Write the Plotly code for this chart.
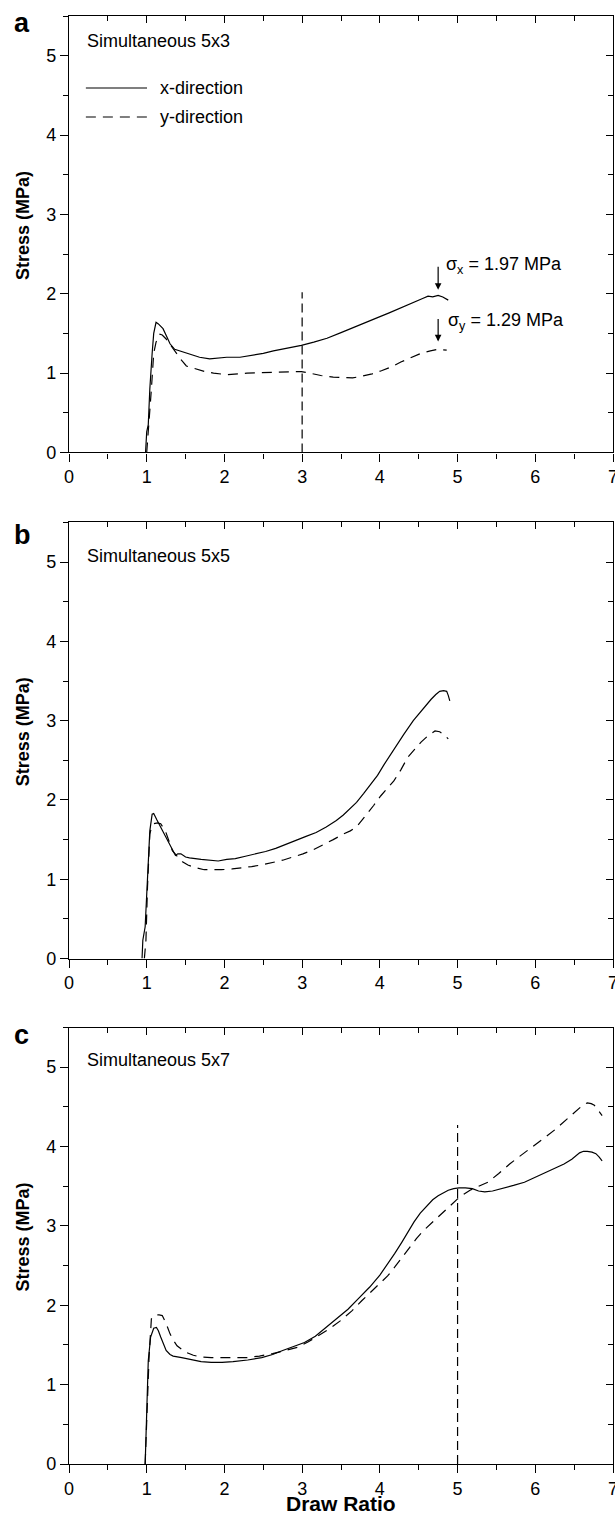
import plotly.graph_objects as go

# ---------------- data ----------------
a_x_dr = [0.985, 0.99, 1.0, 1.02, 1.04, 1.07, 1.09, 1.12, 1.15, 1.21, 1.26, 1.30, 1.36, 1.45, 1.51, 1.60,
          1.68, 1.81, 1.95, 2.03, 2.20, 2.33, 2.50, 2.63, 2.80, 2.99, 3.15, 3.32, 3.50, 3.63, 3.80, 3.97,
          4.12, 4.27, 4.45, 4.55, 4.62, 4.68, 4.75, 4.81, 4.88]
a_x_st = [0.0, 0.12, 0.26, 0.35, 0.80, 1.25, 1.50, 1.64, 1.62, 1.56, 1.45, 1.37, 1.30, 1.27, 1.25, 1.22,
          1.20, 1.18, 1.19, 1.20, 1.20, 1.22, 1.25, 1.28, 1.31, 1.35, 1.39, 1.44, 1.51, 1.56, 1.63, 1.70,
          1.76, 1.82, 1.89, 1.94, 1.97, 1.96, 1.98, 1.96, 1.92]
a_y_dr = [1.0, 1.03, 1.06, 1.09, 1.12, 1.17, 1.20, 1.25, 1.30, 1.36, 1.41, 1.45, 1.51, 1.64, 1.75, 1.86,
          2.03, 2.29, 2.63, 2.99, 3.10, 3.24, 3.40, 3.54, 3.65, 3.76, 3.90, 4.02, 4.15, 4.27, 4.40, 4.53,
          4.65, 4.75, 4.86]
a_y_st = [0.0, 0.35, 0.80, 1.25, 1.39, 1.49, 1.48, 1.43, 1.36, 1.29, 1.22, 1.16, 1.09, 1.05, 1.02, 1.00,
          0.98, 1.00, 1.01, 1.02, 1.00, 0.97, 0.95, 0.94, 0.94, 0.96, 0.99, 1.03, 1.08, 1.14, 1.20, 1.25,
          1.28, 1.30, 1.29]

b_x_dr = [0.94, 0.95, 0.98, 1.01, 1.04, 1.07, 1.09, 1.13, 1.18, 1.26, 1.32, 1.37, 1.40, 1.44, 1.50, 1.55,
          1.70, 1.80, 1.92, 2.03, 2.14, 2.27, 2.40, 2.53, 2.66, 2.80, 2.92, 3.05, 3.18, 3.31, 3.44, 3.53,
          3.62, 3.70, 3.79, 3.88, 3.97, 4.05, 4.14, 4.22, 4.31, 4.43, 4.52, 4.60, 4.66, 4.72, 4.77, 4.82,
          4.86, 4.88, 4.90]
b_x_st = [0.0, 0.23, 0.40, 0.99, 1.61, 1.82, 1.83, 1.75, 1.66, 1.51, 1.40, 1.30, 1.32, 1.32, 1.28, 1.27,
          1.25, 1.24, 1.23, 1.25, 1.26, 1.29, 1.32, 1.35, 1.39, 1.44, 1.49, 1.54, 1.59, 1.66, 1.74, 1.81,
          1.89, 1.97, 2.08, 2.19, 2.31, 2.44, 2.58, 2.70, 2.83, 3.00, 3.11, 3.20, 3.27, 3.33, 3.37, 3.38,
          3.37, 3.32, 3.25]
b_y_dr = [0.97, 0.99, 1.01, 1.04, 1.06, 1.09, 1.14, 1.18, 1.24, 1.28, 1.33, 1.40, 1.46, 1.53, 1.61, 1.74,
          1.85, 1.96, 2.10, 2.22, 2.35, 2.48, 2.62, 2.75, 2.88, 3.01, 3.14, 3.27, 3.40, 3.53, 3.62, 3.70,
          3.76, 3.83, 3.92, 4.01, 4.10, 4.18, 4.27, 4.36, 4.45, 4.53, 4.62, 4.71, 4.77, 4.83, 4.88]
b_y_st = [0.0, 0.23, 0.90, 1.57, 1.65, 1.70, 1.71, 1.70, 1.61, 1.50, 1.36, 1.28, 1.22, 1.18, 1.15, 1.12,
          1.12, 1.12, 1.13, 1.14, 1.16, 1.18, 1.21, 1.24, 1.28, 1.32, 1.37, 1.43, 1.50, 1.57, 1.61, 1.66,
          1.73, 1.82, 1.93, 2.05, 2.15, 2.24, 2.38, 2.54, 2.64, 2.73, 2.81, 2.87, 2.86, 2.82, 2.77]

c_x_dr = [0.98, 1.0, 1.02, 1.05, 1.09, 1.125, 1.15, 1.18, 1.22, 1.25, 1.30, 1.34, 1.45, 1.55, 1.70, 1.83,
          1.97, 2.11, 2.30, 2.48, 2.62, 2.75, 2.90, 3.03, 3.17, 3.31, 3.45, 3.59, 3.73, 3.87, 4.00, 4.10,
          4.19, 4.28, 4.36, 4.44, 4.52, 4.61, 4.68, 4.75, 4.82, 4.88, 4.95, 5.02, 5.10, 5.19, 5.27, 5.35,
          5.45, 5.58, 5.72, 5.86, 5.97, 6.09, 6.23, 6.37, 6.47, 6.57, 6.62, 6.67, 6.73, 6.78, 6.82, 6.86]
c_x_st = [0.0, 0.65, 1.30, 1.60, 1.71, 1.72, 1.68, 1.60, 1.50, 1.43, 1.38, 1.36, 1.34, 1.32, 1.29, 1.28,
          1.28, 1.29, 1.31, 1.34, 1.38, 1.43, 1.48, 1.53, 1.61, 1.72, 1.83, 1.95, 2.09, 2.23, 2.38, 2.52,
          2.65, 2.79, 2.92, 3.05, 3.16, 3.26, 3.33, 3.38, 3.42, 3.45, 3.47, 3.48, 3.48, 3.47, 3.44, 3.43,
          3.44, 3.47, 3.51, 3.55, 3.60, 3.66, 3.72, 3.78, 3.84, 3.92, 3.94, 3.94, 3.93, 3.91, 3.87, 3.82]
c_y_dr = [0.98, 1.0, 1.03, 1.06, 1.11, 1.16, 1.20, 1.25, 1.30, 1.35, 1.39, 1.50, 1.60, 1.69, 1.83, 1.97,
          2.13, 2.29, 2.45, 2.62, 2.78, 2.94, 3.08, 3.22, 3.36, 3.50, 3.64, 3.77, 3.89, 4.00, 4.10, 4.19,
          4.29, 4.38, 4.47, 4.56, 4.66, 4.75, 4.84, 4.93, 5.00, 5.08, 5.16, 5.27, 5.39, 5.53, 5.67, 5.79,
          5.90, 6.02, 6.13, 6.25, 6.37, 6.46, 6.55, 6.61, 6.67, 6.72, 6.76, 6.81, 6.86]
c_y_st = [0.0, 0.60, 1.34, 1.83, 1.88, 1.88, 1.87, 1.77, 1.64, 1.55, 1.49, 1.41, 1.37, 1.35, 1.34, 1.34,
          1.34, 1.34, 1.36, 1.39, 1.43, 1.47, 1.54, 1.62, 1.71, 1.81, 1.93, 2.06, 2.17, 2.27, 2.37, 2.48,
          2.61, 2.73, 2.84, 2.94, 3.03, 3.11, 3.20, 3.28, 3.34, 3.40, 3.45, 3.50, 3.55, 3.66, 3.78, 3.87,
          3.95, 4.03, 4.12, 4.21, 4.31, 4.39, 4.47, 4.52, 4.55, 4.54, 4.52, 4.46, 4.39]

panel_letters = ["a", "b", "c"]
panel_titles = ["Simultaneous 5x3", "Simultaneous 5x5", "Simultaneous 5x7"]
series_names = ["x-direction", "y-direction"]
x_title = "Draw Ratio"
y_title = "Stress (MPa)"

# vertical reference lines (panel index, draw ratio, top stress)
ref_panel = [1, 3]
ref_x = [3.0, 5.0]
ref_top = [2.02, 4.27]

# sigma annotations in panel a
sig_text = ["σ<sub>x</sub> = 1.97 MPa", "σ<sub>y</sub> = 1.29 MPa"]
sig_arrow_x = [4.75, 4.75]
sig_arrow_top = [2.36, 1.70]
sig_arrow_tip = [2.05, 1.40]
sig_text_x = [4.83, 4.85]
sig_text_y = [2.36, 1.65]

x_range = [0, 7]
y_range = [0, 5.5]

# ---------------- figure ----------------
FONT = "Liberation Sans, Arial, Helvetica, sans-serif"
DASH = "10px,7px"
REFDASH = "9px,5px"
LW = 1.2
AXW = 1.3

domains = [[0.69855, 1.0], [0.34910, 0.65021], [0.0, 0.30145]]
curves = [(a_x_dr, a_x_st, a_y_dr, a_y_st),
          (b_x_dr, b_x_st, b_y_dr, b_y_st),
          (c_x_dr, c_x_st, c_y_dr, c_y_st)]


def ax_name(kind, n):
    return kind if n == 1 else f"{kind}{n}"


fig = go.Figure()

for i, (xd, xs, yd, ys) in enumerate(curves, start=1):
    fig.add_trace(go.Scatter(x=xd, y=xs, mode="lines", name=series_names[0],
                             line=dict(color="black", width=LW),
                             xaxis=ax_name("x", i), yaxis=ax_name("y", i), showlegend=False))
    fig.add_trace(go.Scatter(x=yd, y=ys, mode="lines", name=series_names[1],
                             line=dict(color="black", width=LW, dash=DASH),
                             xaxis=ax_name("x", i), yaxis=ax_name("y", i), showlegend=False))

for p, rx, rt in zip(ref_panel, ref_x, ref_top):
    fig.add_trace(go.Scatter(x=[rx, rx], y=[y_range[0], rt], mode="lines",
                             line=dict(color="black", width=LW, dash=REFDASH),
                             xaxis=ax_name("x", p), yaxis=ax_name("y", p),
                             showlegend=False, hoverinfo="skip"))

# hidden traces so the mirrored tick axes (top / right) get drawn
for i in range(1, 4):
    fig.add_trace(go.Scatter(x=[None], y=[None], xaxis=f"x{i + 3}", yaxis=ax_name("y", i),
                             showlegend=False, hoverinfo="skip"))
    fig.add_trace(go.Scatter(x=[None], y=[None], xaxis=ax_name("x", i), yaxis=f"y{i + 3}",
                             showlegend=False, hoverinfo="skip"))

tickfont = dict(family=FONT, size=18, color="black")
layout = dict(width=615, height=1525, margin=dict(l=69, r=2, t=16, b=61, autoexpand=False),
              paper_bgcolor="white", plot_bgcolor="white", showlegend=False)

for i in range(1, 4):
    sfx = "" if i == 1 else str(i)
    layout[f"xaxis{sfx}"] = dict(
        domain=[0, 1], range=x_range, anchor=f"y{sfx}", dtick=1, tick0=0,
        ticks="outside", ticklen=8, tickwidth=1.2, tickcolor="black",
        minor=dict(dtick=0.5, ticklen=5, ticks="outside", tickwidth=1.2, tickcolor="black"),
        showline=True, mirror=True, linewidth=AXW, linecolor="black", showgrid=False, zeroline=False,
        tickfont=tickfont, ticklabeloverflow="allow", automargin=False, fixedrange=True)
    layout[f"yaxis{sfx}"] = dict(
        domain=domains[i - 1], range=y_range, anchor=f"x{sfx}", dtick=1, tick0=0,
        ticks="outside", ticklen=8, tickwidth=1.2, tickcolor="black",
        minor=dict(dtick=0.5, ticklen=5, ticks="outside", tickwidth=1.2, tickcolor="black"),
        showline=True, mirror=True, linewidth=AXW, linecolor="black", showgrid=False, zeroline=False,
        tickfont=tickfont, ticklabeloverflow="allow", automargin=False, fixedrange=True)
    # inward ticks on top and right
    layout[f"xaxis{i + 3}"] = dict(
        overlaying=f"x{sfx}", side="top", anchor=f"y{sfx}", range=x_range,
        dtick=1, tick0=0, ticks="inside", ticklen=7, tickwidth=1.2, tickcolor="black",
        minor=dict(dtick=0.5, ticklen=5, ticks="inside", tickwidth=1.2, tickcolor="black"),
        showticklabels=False, showline=False, showgrid=False, zeroline=False,
        automargin=False, fixedrange=True)
    layout[f"yaxis{i + 3}"] = dict(
        overlaying=f"y{sfx}", side="right", anchor=f"x{sfx}", range=y_range,
        dtick=1, tick0=0, ticks="inside", ticklen=7, tickwidth=1.2, tickcolor="black",
        minor=dict(dtick=0.5, ticklen=5, ticks="inside", tickwidth=1.2, tickcolor="black"),
        showticklabels=False, showline=False, showgrid=False, zeroline=False,
        automargin=False, fixedrange=True)

fig.update_layout(**layout)

annos = []
title_y = [0.9427, 0.923, 0.9255]
letter_y = [0.985, 0.971, 0.983]
for i in range(1, 4):
    sfx = "" if i == 1 else str(i)
    annos.append(dict(text=panel_titles[i - 1], xref=f"x{sfx} domain", yref=f"y{sfx} domain",
                      x=0.0294, y=title_y[i - 1], xanchor="left", yanchor="middle", showarrow=False,
                      font=dict(family=FONT, size=18, color="black")))
    annos.append(dict(text=f"<b>{panel_letters[i - 1]}</b>", xref=f"x{sfx} domain", yref=f"y{sfx} domain",
                      x=-0.105, y=letter_y[i - 1], xanchor="left", yanchor="middle", showarrow=False,
                      font=dict(family=FONT, size=27, color="black")))
    annos.append(dict(text=f"<b>{y_title}</b>", xref=f"x{sfx} domain", yref=f"y{sfx} domain",
                      x=-0.0846, y=0.521, xanchor="center", yanchor="middle", textangle=-90,
                      showarrow=False, font=dict(family=FONT, size=18, color="black")))

annos.append(dict(text=f"<b>{x_title}</b>", xref="x3 domain", yref="y3 domain",
                  x=0.5, y=-0.091, xanchor="center", yanchor="middle", showarrow=False,
                  font=dict(family=FONT, size=21, color="black")))

# legend (panel a)
leg_y = [0.835, 0.7686]
leg_dash = ["solid", DASH]
for name, ly, dsh in zip(series_names, leg_y, leg_dash):
    fig.add_shape(type="line", xref="x domain", yref="y domain", x0=0.031, x1=0.1434, y0=ly, y1=ly,
                  line=dict(color="black", width=LW, dash=dsh))
    annos.append(dict(text=name, xref="x domain", yref="y domain", x=0.1636, y=ly,
                      xanchor="left", yanchor="middle", showarrow=False,
                      font=dict(family=FONT, size=18, color="black")))

for t, axx, atop, atip, tx, ty in zip(sig_text, sig_arrow_x, sig_arrow_top, sig_arrow_tip,
                                      sig_text_x, sig_text_y):
    annos.append(dict(text="", x=axx, y=atip, ax=axx, ay=atop, xref="x", yref="y", axref="x", ayref="y",
                      showarrow=True, arrowhead=2, arrowsize=1.1, arrowwidth=1.2, arrowcolor="black",
                      standoff=0, startstandoff=0))
    annos.append(dict(text=t, x=tx, y=ty, xref="x", yref="y", xanchor="left", yanchor="middle",
                      showarrow=False, font=dict(family=FONT, size=18, color="black")))

fig.update_layout(annotations=annos)
fig.write_html("out.html")
